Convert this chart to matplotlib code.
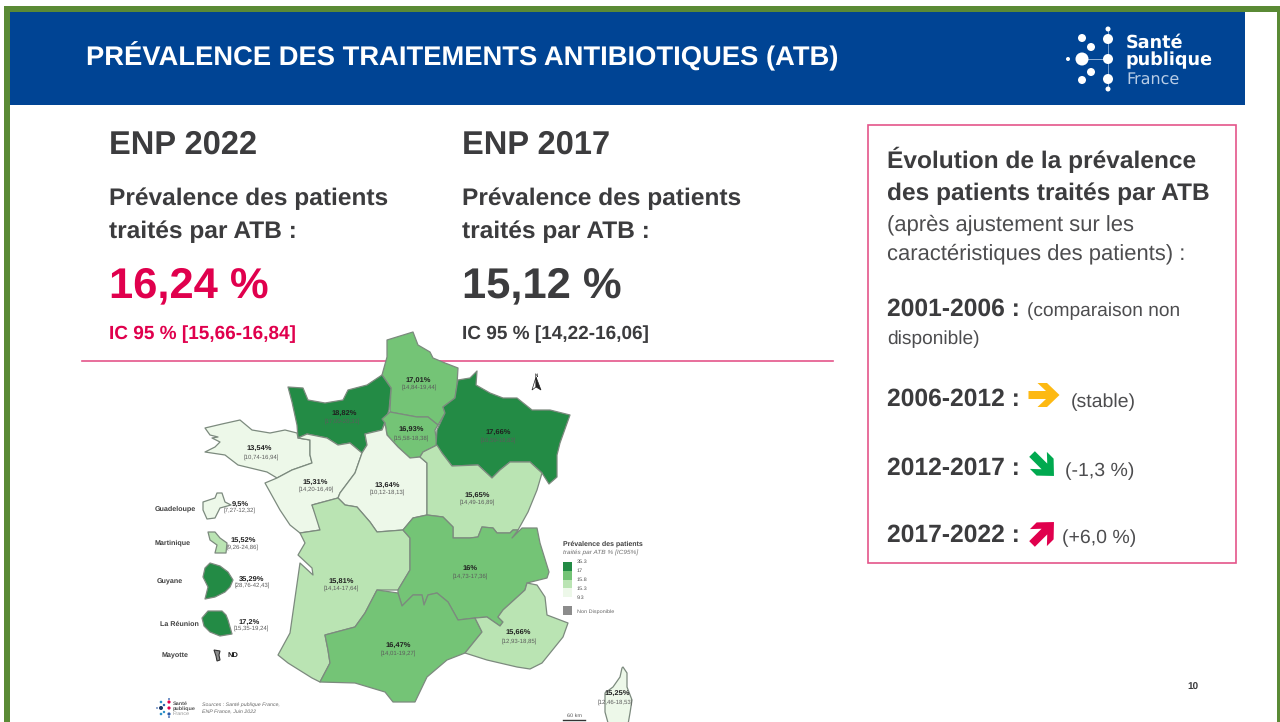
#!/usr/bin/env python3
"""Slide: prevalence of antibiotic treatments (ENP 2022), with region map. Saves out.png."""
import matplotlib
matplotlib.use("Agg")
import matplotlib.pyplot as plt
from matplotlib.colors import BoundaryNorm, ListedColormap
from matplotlib.patches import Circle, Polygon, Rectangle
from matplotlib.transforms import Affine2D

plt.rcParams["font.family"] = ["Liberation Sans", "DejaVu Sans"]
plt.rcParams["text.hinting"] = "none"

GREEN = "#5a8a35"
BLUE = "#004494"
PINK = "#e0004d"
RULE = "#e4558a"
DARK = "#3c3c3e"
GREY = "#4d4d4f"
EDGE = "#7c8a7e"

# headline figures
ENP_YEARS = ["ENP 2022", "ENP 2017"]
ENP_VALUES = ["16,24 %", "15,12 %"]
ENP_CI = ["IC 95 % [15,66-16,84]", "IC 95 % [14,22-16,06]"]

# evolution panel
EVO_PERIODS = ["2006-2012 :", "2012-2017 :", "2017-2022 :"]
EVO_NOTES = ["(stable)", "(-1,3 %)", "(+6,0 %)"]

# map data, in the same order everywhere
REGIONS = ["Hauts-de-France", "Normandie", "Ile-de-France", "Grand Est", "Bretagne",
           "Pays de la Loire", "Centre-Val de Loire", "Bourgogne-Franche-Comte",
           "Nouvelle-Aquitaine", "Auvergne-Rhone-Alpes", "Occitanie", "PACA", "Corse",
           "Guadeloupe", "Martinique", "Guyane", "La Reunion"]
VALUES = [17.01, 18.82, 16.93, 17.66, 13.54, 15.31, 13.64, 15.65,
          15.81, 16.0, 16.47, 15.66, 15.25, 9.5, 15.52, 35.29, 17.2]
VALUE_TEXT = ["17,01%", "18,82%", "16,93%", "17,66%", "13,54%", "15,31%", "13,64%", "15,65%",
              "15,81%", "16%", "16,47%", "15,66%", "15,25%", "9,5%", "15,52%", "35,29%", "17,2%"]
CI_TEXT = ["[14,84-19,44]", "[17,00-20,31]", "[15,58-18,38]", "[16,59-18,83]", "[10,74-16,94]",
           "[14,20-16,49]", "[10,12-18,13]", "[14,49-16,89]", "[14,14-17,64]", "[14,73-17,36]",
           "[14,01-19,27]", "[12,93-18,85]", "[12,46-18,53]", "[7,27-12,32]", "[9,26-24,86]",
           "[28,76-42,43]", "[15,35-19,24]"]
OVERSEAS = ["Guadeloupe", "Martinique", "Guyane", "La Réunion", "Mayotte"]

# colour classes of the map legend
BIN_EDGES = [9.3, 15.32, 15.9, 17.1, 35.3]
BIN_COLORS = ["#edf8e9", "#bae4b3", "#74c476", "#238b45"]
LEGEND_TICKS = ["35.3", "17", "15.8", "15.3", "9.3"]

# region outlines, pixels
OUTLINES = {
    "Hauts-de-France": [(387, 340), (413, 332), (418, 345), (430, 352), (433, 358), (445, 363), (458, 368),
                        (457, 385), (455, 398), (443, 407), (445, 413), (438, 425), (428, 417), (417, 417),
                        (390, 412), (391, 388), (382, 375), (387, 357)],
    "Normandie": [(288, 387), (303, 388), (308, 400), (325, 403), (343, 400), (348, 390), (367, 385), (382, 375),
                  (391, 388), (389, 410), (382, 430), (365, 434), (367, 445), (362, 453), (350, 443), (338, 445),
                  (327, 438), (307, 434), (298, 438), (297, 425), (292, 402)],
    "Ile-de-France": [(390, 412), (417, 417), (428, 417), (438, 425), (435, 430), (437, 445), (423, 452), (420, 457),
                      (410, 458), (398, 447), (387, 435), (385, 423), (382, 419)],
    "Grand Est": [(458, 380), (470, 378), (477, 371), (476, 385), (490, 393), (503, 398), (517, 398), (532, 410),
                  (550, 410), (570, 415), (560, 443), (557, 455), (557, 477), (549, 484), (542, 473), (530, 462),
                  (510, 462), (500, 470), (492, 478), (478, 465), (452, 466), (442, 453), (436, 445), (437, 430),
                  (445, 413), (443, 407), (455, 398), (457, 385)],
    "Bretagne": [(205, 428), (222, 424), (240, 420), (252, 430), (270, 433), (285, 430), (297, 433), (298, 438),
                 (310, 440), (310, 455), (312, 463), (292, 470), (277, 478), (267, 472), (238, 465), (225, 455),
                 (205, 452), (215, 447), (220, 442), (212, 438), (218, 437), (210, 435)],
    "Pays de la Loire": [(298, 438), (307, 434), (327, 438), (338, 445), (350, 443), (362, 453), (355, 473),
                         (340, 493), (338, 498), (312, 505), (318, 520), (320, 530), (300, 533), (290, 525),
                         (280, 510), (265, 483), (277, 478), (292, 470), (312, 463), (310, 455), (310, 440)],
    "Centre-Val de Loire": [(365, 434), (382, 430), (385, 423), (387, 435), (398, 447), (410, 458), (420, 457),
                            (427, 463), (427, 515), (413, 518), (403, 530), (377, 532), (370, 522), (357, 507),
                            (345, 505), (338, 498), (340, 493), (355, 473), (362, 453), (367, 445)],
    "Bourgogne-Franche-Comte": [(423, 452), (437, 445), (442, 453), (452, 466), (478, 465), (492, 478), (500, 470),
                                (510, 462), (530, 462), (542, 473), (537, 490), (528, 512), (518, 530), (513, 530),
                                (510, 533), (497, 533), (493, 528), (482, 527), (478, 537), (470, 538), (453, 538),
                                (453, 527), (443, 517), (427, 515), (427, 463), (420, 457)],
    "Nouvelle-Aquitaine": [(300, 533), (320, 530), (312, 505), (338, 498), (345, 505), (357, 507), (370, 522),
                           (377, 532), (403, 530), (410, 538), (410, 570), (398, 590), (377, 590), (365, 613),
                           (355, 627), (325, 635), (328, 650), (330, 663), (320, 682), (312, 678), (288, 663),
                           (278, 655), (290, 633), (300, 563), (313, 575), (312, 568), (298, 555), (305, 543)],
    "Auvergne-Rhone-Alpes": [(403, 530), (413, 518), (427, 515), (443, 517), (453, 527), (453, 538), (470, 538),
                             (478, 537), (482, 527), (493, 528), (497, 533), (510, 533), (513, 530), (518, 530),
                             (512, 538), (522, 528), (537, 528), (540, 543), (549, 572), (547, 578), (527, 583),
                             (525, 590), (503, 610), (498, 617), (503, 622), (500, 626), (487, 617), (475, 618),
                             (458, 620), (448, 602), (437, 593), (428, 595), (424, 605), (422, 595), (413, 595),
                             (402, 606), (398, 593), (398, 590), (410, 570), (410, 538)],
    "Occitanie": [(325, 635), (355, 627), (365, 613), (377, 590), (398, 593), (402, 606), (413, 595), (422, 595),
                  (424, 605), (428, 595), (437, 593), (448, 602), (458, 620), (475, 618), (482, 632), (465, 653),
                  (447, 660), (427, 677), (415, 702), (393, 702), (385, 692), (355, 683), (320, 682), (330, 663),
                  (328, 650)],
    "PACA": [(475, 618), (487, 617), (500, 626), (503, 622), (498, 617), (503, 610), (525, 590), (527, 583),
             (537, 585), (545, 597), (547, 615), (568, 623), (563, 637), (542, 663), (530, 669), (517, 667),
             (487, 660), (465, 653), (482, 632)],
    "Corse": [(623, 667), (627, 673), (627, 687), (632, 700), (630, 713), (627, 730), (610, 730), (605, 712),
              (605, 693), (613, 687), (620, 677), (622, 668)],
    "Guadeloupe": [(203, 502), (215, 498), (217, 493), (222, 493), (225, 502), (231, 505), (220, 508), (215, 518),
                   (207, 519), (203, 510)],
    "Martinique": [(208, 532), (215, 532), (220, 538), (227, 543), (226, 553), (215, 553), (217, 545), (210, 540)],
    "Guyane": [(210, 563), (220, 566), (228, 572), (233, 580), (230, 587), (225, 592), (215, 597), (205, 599),
               (208, 587), (203, 577), (205, 568)],
    "La Reunion": [(202, 618), (208, 611), (222, 611), (226, 615), (228, 620), (232, 634), (220, 636), (210, 632),
                   (204, 626)],
}
VALUE_POS = [(418, 380), (344, 413), (411, 429), (498, 432), (259, 448), (315, 482), (387, 485), (477, 495),
             (341, 581), (470, 568), (398, 645), (518, 632), (617, 693), (240, 504), (243, 540), (252, 579), (249, 622)]
CI_POS = [(419, 387), (342, 421), (411, 438), (498, 440), (261, 457), (316, 489), (387, 492), (477, 502),
          (341, 588), (470, 576), (398, 653), (519, 641), (615, 702), (240, 510), (243, 547), (252, 585), (251, 628)]
OVERSEAS_POS = [(175, 509), (173, 543), (170, 582), (179, 624), (175, 656)]

fig = plt.figure(figsize=(12.8, 7.22), dpi=100, facecolor="white")
ax = fig.add_axes([0, 0, 1, 1])
ax.set_xlim(0, 1280)
ax.set_ylim(722, 0)
ax.axis("off")


def px(size):
    # font size given in pixels, slide was measured that way
    return size * 0.72


def text(x, y, s, size, color=DARK, weight="normal", ha="left", va="baseline", **kw):
    ax.text(x, y, s, fontsize=px(size), color=color, weight=weight, ha=ha, va=va, zorder=6, **kw)


def logo(x0, y0, k, dots, links):
    # Santé publique France dot mark
    for dx, dy, r, c in dots:
        ax.add_patch(Circle((x0 + dx * k, y0 + dy * k), r * k, color=c, lw=0, zorder=6))
    for dx, dy in links:
        ax.plot([x0, x0 + dx * k], [y0, y0 + dy * k], color="#8fb0d8", lw=0.6 * k, zorder=5)


# frame and header
ax.add_patch(Rectangle((4, 6), 1276, 716, facecolor=GREEN, edgecolor="none", zorder=0))
ax.add_patch(Rectangle((10, 12), 1267, 710, facecolor="white", edgecolor="none", zorder=0.5))
ax.add_patch(Rectangle((10, 12), 1235, 93, facecolor=BLUE, edgecolor="none", zorder=1))
text(86, 65, "PRÉVALENCE DES TRAITEMENTS ANTIBIOTIQUES (ATB)", 27.4, "white", "bold")

white_dots = [(0, -30, 2.5, "white"), (0, -20, 5, "white"), (-26, -21, 4, "white"), (-17, -12, 4, "white"),
              (-26, 0, 6.5, "white"), (-40, 0, 2, "white"), (0, 0, 5, "white"), (-17, 13, 4, "white"),
              (-26, 21, 4, "white"), (0, 20, 5, "white"), (0, 30, 2.5, "white")]
logo(1108, 59, 1, white_dots, [(-26, 0), (0, -30), (0, 30)])
ax.plot([1082, 1108], [59, 59], color="#8fb0d8", lw=0.6, zorder=5)
ax.text(1126, 48, "Santé", fontsize=12.7, color="white", weight="bold", family="DejaVu Sans", zorder=6)
ax.text(1126, 65, "publique", fontsize=12.7, color="white", weight="bold", family="DejaVu Sans", zorder=6)
ax.text(1126, 84, "France", fontsize=11.5, color="#b9cde6", family="DejaVu Sans", zorder=6)

# headline columns
for x, year, val, ci, col in zip([109, 462], ENP_YEARS, ENP_VALUES, ENP_CI, [PINK, DARK]):
    text(x, 154, year, 32.6, DARK, "bold")
    text(x, 205, "Prévalence des patients", 24.5, DARK, "bold")
    text(x, 238, "traités par ATB :", 24.5, DARK, "bold")
    text(x, 297, val, 43.5, col, "bold")
    text(x, 339, ci, 19, col, "bold")
ax.plot([82, 833], [361, 361], color=RULE, lw=1.2, zorder=2)

# evolution box
ax.add_patch(Rectangle((868, 125), 368, 438, facecolor="white", edgecolor=RULE, lw=1.2, zorder=2))
text(887, 168, "Évolution de la prévalence", 24.5, DARK, "bold")
text(887, 200, "des patients traités par ATB", 24.5, DARK, "bold")
text(887, 230, "(après ajustement sur les", 22, GREY)
text(887, 259, "caractéristiques des patients) :", 22, GREY)
text(887, 316, "2001-2006 :", 24.6, DARK, "bold")
text(1027, 316, "(comparaison non", 19.2, GREY)
text(887, 344, "disponible)", 19.2, GREY)

ARROW = [(-15.5, -4), (2, -4), (-6.5, -12), (3, -12), (15.5, 0), (3, 12), (-6.5, 12), (2, 4), (-15.5, 4)]
for period, note, y, x_note, ax_x, ax_y, angle, col in zip(
        EVO_PERIODS, EVO_NOTES, [406, 475, 542], [1071, 1065, 1062], [1044, 1043, 1043], [395, 465, 533],
        [0, 45, -45], ["#fdb913", "#00a94f", "#e0004d"]):
    text(887, y, period, 24.6, DARK, "bold")
    text(x_note, y + 1, note, 19.5, GREY)
    tr = Affine2D().rotate_deg(angle).translate(ax_x, ax_y) + ax.transData
    ax.add_patch(Polygon(ARROW, closed=True, facecolor=col, edgecolor="none", transform=tr, zorder=4))

text(1193, 690, "10", 10, DARK, "bold", ha="center")

# map, colour from the value through the legend classes
cmap = ListedColormap(BIN_COLORS)
norm = BoundaryNorm(BIN_EDGES, cmap.N)
for name, val in zip(REGIONS, VALUES):
    ax.add_patch(Polygon(OUTLINES[name], closed=True, facecolor=cmap(norm(val)), edgecolor=EDGE, lw=0.9,
                         joinstyle="round", zorder=3))
for pos, s in zip(VALUE_POS, VALUE_TEXT):
    text(pos[0], pos[1], s, 7.5, "#202020", "bold", ha="center", va="center")
for pos, s in zip(CI_POS, CI_TEXT):
    text(pos[0], pos[1], s, 6, "#5c5c5c", ha="center", va="center")
for pos, s in zip(OVERSEAS_POS, OVERSEAS):
    text(pos[0], pos[1], s, 7.2, "#404040", "bold", ha="center", va="center")

# Mayotte has no value
ax.add_patch(Polygon([(214, 650), (220, 651), (219, 655), (220, 660), (217, 661), (216, 656)], closed=True,
                     facecolor="#8c8c8c", edgecolor="#333333", lw=0.8, zorder=3))
text(233, 655, "ND", 7.5, "#202020", "bold", ha="center", va="center")

# map legend
text(563, 544, "Prévalence des patients", 7, "#404040", "bold", va="center")
text(563, 552, "traités par ATB % [IC95%]", 6.5, "#707070", va="center", style="italic")
for i, col in enumerate(reversed(BIN_COLORS)):
    ax.add_patch(Rectangle((563, 562 + i * 8.8), 9, 8.8, facecolor=col, edgecolor="none", zorder=3))
for i, tick in enumerate(LEGEND_TICKS):
    text(577, 562 + i * 8.8, tick, 5.5, "#555555", va="center")
ax.add_patch(Rectangle((563, 606), 9, 9, facecolor="#8c8c8c", edgecolor="none", zorder=3))
text(577, 612, "Non Disponible", 5.5, "#666666", va="center")

# north arrow and scale bar
ax.add_patch(Polygon([(536, 377), (532, 390), (536, 387)], closed=True, facecolor="white", edgecolor="#222222",
                     lw=0.5, zorder=3))
ax.add_patch(Polygon([(536, 377), (541, 390), (536, 387)], closed=True, facecolor="#222222", edgecolor="#222222",
                     lw=0.5, zorder=3))
text(536, 378, "N", 4.5, "#222222", "bold", ha="center", va="bottom")
ax.plot([563, 585], [720, 720], color="#333333", lw=1, zorder=3)
text(574, 716, "60 km", 5.5, "#555555", ha="center", va="center")

# small logo and sources
small_dots = [(0, -9, 0.9, "#2a5aa8"), (0, -6, 1.6, "#e0004d"), (-8, -6, 1.3, "#2a8fc8"), (-5, -3, 1.2, "#2a5aa8"),
              (-8, 0, 2, "#15315f"), (-12, 0, 0.8, "#2a5aa8"), (0, 0, 1.6, "#e0004d"), (-5, 4, 1.2, "#2a8fc8"),
              (-8, 6, 1.3, "#2a8fc8"), (0, 6, 1.6, "#2a5aa8"), (0, 9, 0.9, "#2a5aa8")]
logo(169, 708, 1, small_dots, [])
text(173, 704, "Santé", 5.5, "#555555", "bold", va="center")
text(173, 709, "publique", 5.5, "#555555", "bold", va="center")
text(173, 714, "France", 5.5, "#999999", va="center")
text(202, 705, "Sources : Santé publique France,", 5.2, "#666666", va="center", style="italic")
text(202, 712, "ENP France, Juin 2022", 5.2, "#666666", va="center", style="italic")

fig.savefig("out.png", dpi=100, facecolor="white")
